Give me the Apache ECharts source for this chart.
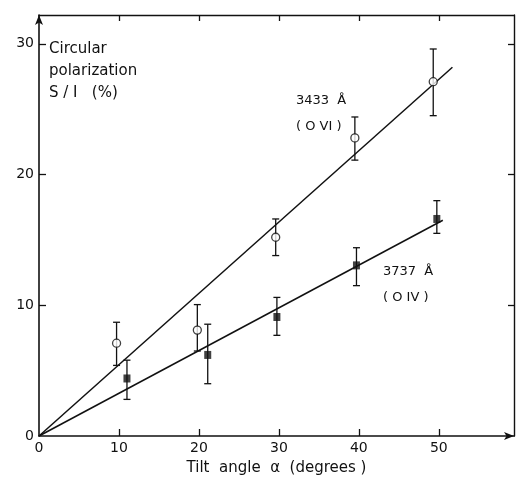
<!DOCTYPE html>
<html>
<head>
<meta charset="utf-8">
<script src="https://cdn.jsdelivr.net/npm/echarts@6/dist/echarts.min.js"></script>
<style>
  html, body { margin: 0; padding: 0; background: #fff; }
  #chart { width: 517px; height: 481px; }
</style>
</head>
<body>
<div id="chart"></div>
<script>
// O VI 3433 A  (open circles)
var ovTilt = [9.7, 19.8, 29.6, 39.5, 49.3];
var ovPol  = [7.1, 8.1, 15.2, 22.8, 27.1];
var ovLow  = [5.4, 6.5, 13.8, 21.1, 24.5];
var ovHigh = [8.7, 10.05, 16.6, 24.4, 29.6];
// O IV 3737 A  (filled squares)
var oivTilt = [11.0, 21.1, 29.75, 39.7, 49.75];
var oivPol  = [4.4, 6.2, 9.1, 13.05, 16.6];
var oivLow  = [2.8, 4.0, 7.7, 11.5, 15.5];
var oivHigh = [5.8, 8.55, 10.6, 14.4, 18.0];
// fitted lines through the origin
var ovFit  = [[0, 0], [51.7, 28.2]];
var oivFit = [[0, 0], [50.5, 16.5]];

var xTicks = [10, 20, 30, 40, 50];
var xLabels = [0, 10, 20, 30, 40, 50];
var yTicks = [10, 20, 30];
var yLabels = [0, 10, 20, 30];

var ink = '#111';
var font = 'DejaVu Sans';

function zip(a, b) {
	var out = [];
	for (var i = 0; i < a.length; i++) out.push([a[i], b[i]]);
	return out;
}
function bars(x, lo, hi) {
	var out = [];
	for (var i = 0; i < x.length; i++) out.push([x[i], lo[i], hi[i]]);
	return out;
}

function errorBar(params, api) {
	var x = api.value(0);
	var top = api.coord([x, api.value(2)]);
	var bot = api.coord([x, api.value(1)]);
	var w = 3.5;
	var st = {stroke: ink, lineWidth: 1.3};
	return {
		type: 'group',
		children: [
			{type: 'line', shape: {x1: top[0], y1: top[1], x2: bot[0], y2: bot[1]}, style: st},
			{type: 'line', shape: {x1: top[0] - w, y1: top[1], x2: top[0] + w, y2: top[1]}, style: st},
			{type: 'line', shape: {x1: bot[0] - w, y1: bot[1], x2: bot[0] + w, y2: bot[1]}, style: st}
		]
	};
}

var chart = echarts.init(document.getElementById('chart'));
chart.setOption({
	animation: false,
	backgroundColor: '#fff',
	grid: {left: 39, right: 3, top: 15, bottom: 39},
	xAxis: [
		{
			type: 'value', min: 0, max: 59.4, interval: 10, position: 'bottom',
			splitLine: {show: false},
			axisLine: {onZero: false, lineStyle: {color: ink, width: 1.6}, symbol: ['none', 'arrow'], symbolSize: [6, 10]},
			axisTick: {inside: true, length: 7, lineStyle: {color: ink, width: 1.3}, customValues: xTicks},
			axisLabel: {color: ink, fontFamily: font, fontSize: 14, margin: 5, customValues: xLabels},
			name: 'Tilt  angle  α  (degrees )', nameLocation: 'middle', nameGap: 25,
			nameTextStyle: {color: ink, fontFamily: font, fontSize: 15}
		},
		{
			type: 'value', min: 0, max: 59.4, interval: 10, position: 'top',
			splitLine: {show: false},
			axisLine: {onZero: false, lineStyle: {color: ink, width: 1.4}},
			axisTick: {inside: true, length: 6, lineStyle: {color: ink, width: 1.3}, customValues: xTicks},
			axisLabel: {show: false}
		}
	],
	yAxis: [
		{
			type: 'value', min: 0, max: 32.2, interval: 10, position: 'left',
			splitLine: {show: false},
			axisLine: {onZero: false, lineStyle: {color: ink, width: 1.6}, symbol: ['none', 'arrow'], symbolSize: [6, 10]},
			axisTick: {inside: true, length: 7, lineStyle: {color: ink, width: 1.3}, customValues: yTicks},
			axisLabel: {color: ink, fontFamily: font, fontSize: 14, margin: 5, customValues: yLabels}
		},
		{
			type: 'value', min: 0, max: 32.2, interval: 10, position: 'right',
			splitLine: {show: false},
			axisLine: {onZero: false, lineStyle: {color: ink, width: 1.4}},
			axisTick: {inside: true, length: 6, lineStyle: {color: ink, width: 1.3}, customValues: yTicks},
			axisLabel: {show: false}
		}
	],
	graphic: [
		{type: 'text', left: 49, top: 38, style: {text: 'Circular\npolarization\nS / I   (%)', fill: ink, font: '15px "DejaVu Sans"', lineHeight: 22}},
		{type: 'text', left: 296, top: 94, style: {text: '3433  Å', fill: ink, font: '13px "DejaVu Sans"'}},
		{type: 'text', left: 296, top: 120, style: {text: '( O VI )', fill: ink, font: '13px "DejaVu Sans"'}},
		{type: 'text', left: 383, top: 265, style: {text: '3737  Å', fill: ink, font: '13px "DejaVu Sans"'}},
		{type: 'text', left: 383, top: 291, style: {text: '( O IV )', fill: ink, font: '13px "DejaVu Sans"'}}
	],
	series: [
		{type: 'line', data: ovFit, symbol: 'none', lineStyle: {color: ink, width: 1.5}, z: 2},
		{type: 'line', data: oivFit, symbol: 'none', lineStyle: {color: ink, width: 1.5}, z: 2},
		{type: 'custom', renderItem: errorBar, data: bars(ovTilt, ovLow, ovHigh), encode: {x: 0, y: [1, 2]}, z: 3},
		{type: 'custom', renderItem: errorBar, data: bars(oivTilt, oivLow, oivHigh), encode: {x: 0, y: [1, 2]}, z: 3},
		{type: 'scatter', data: zip(ovTilt, ovPol), symbol: 'circle', symbolSize: 8,
			itemStyle: {color: '#fff', borderColor: ink, borderWidth: 1.3}, z: 4},
		{type: 'scatter', data: zip(oivTilt, oivPol), symbol: 'rect', symbolSize: [7, 8],
			itemStyle: {color: ink}, z: 4}
	]
});
</script>
</body>
</html>
